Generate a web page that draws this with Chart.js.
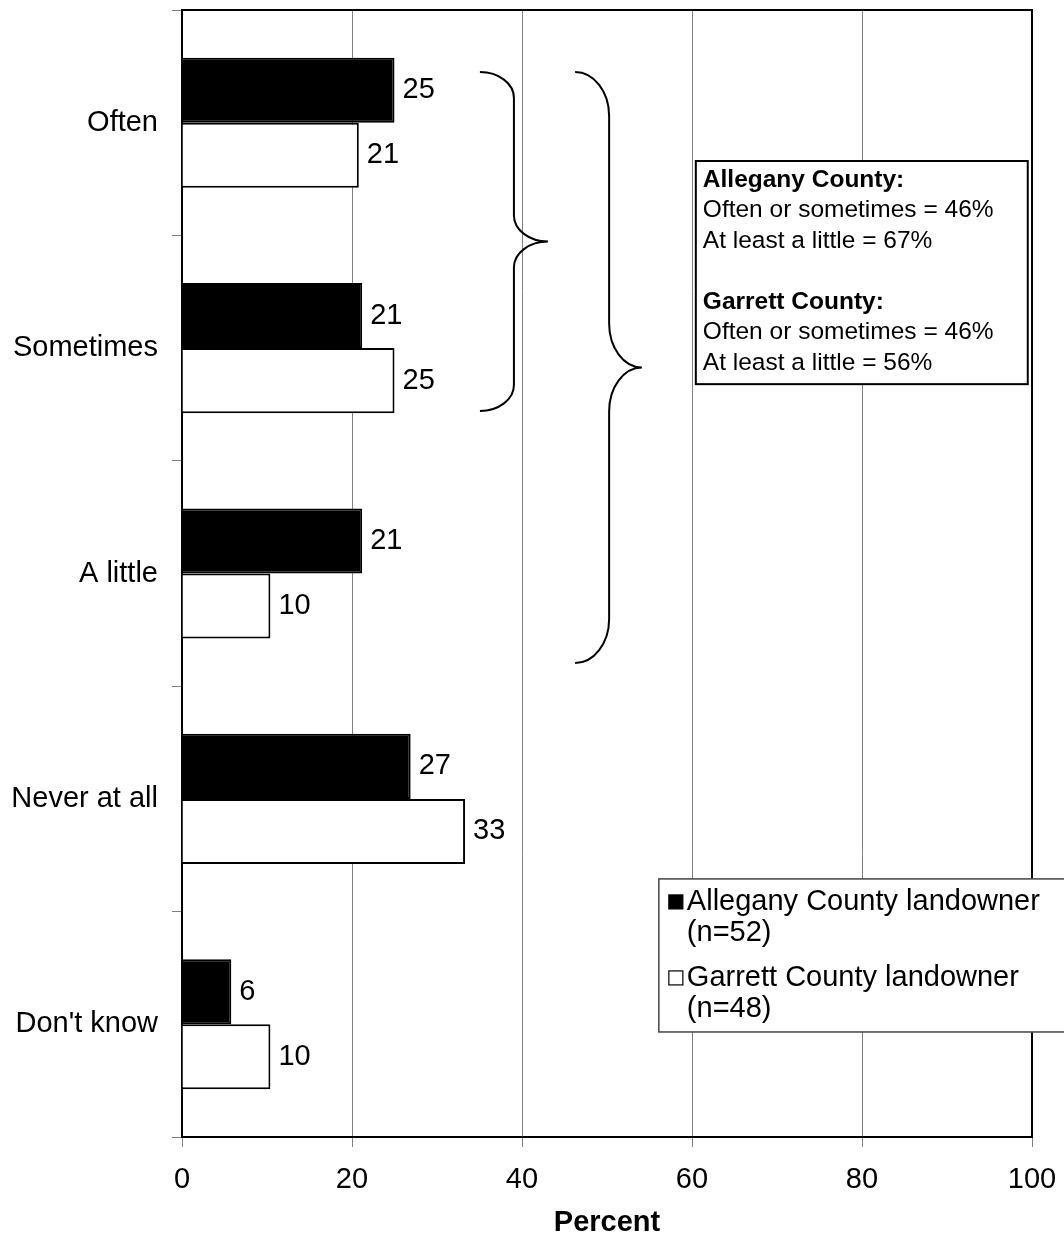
<!DOCTYPE html>
<html>
<head>
<meta charset="utf-8">
<script src="https://cdn.jsdelivr.net/npm/chart.js@4.4.1/dist/chart.umd.min.js"></script>
<style>
  html, body { margin: 0; padding: 0; background: #fff; }
  #wrap { width: 1064px; height: 1240px; }
</style>
</head>
<body>
<div id="wrap"><canvas id="c" width="1064" height="1240"></canvas></div>
<script>
// ---- data ----
const categories = ['Often', 'Sometimes', 'A little', 'Never at all', "Don't know"];
const alleganyValues = [25.0, 21.2, 21.2, 26.9, 5.8];
const garrettValues = [20.8, 25.0, 10.4, 33.3, 10.4];
const xTickValues = [0, 20, 40, 60, 80, 100];
const seriesNames = [['Allegany County landowner', '(n=52)'], ['Garrett County landowner', '(n=48)']];
const summaryLines = [
  ['Allegany County:', true],
  ['Often or sometimes = 46%', false],
  ['At least a little = 67%', false],
  ['', false],
  ['Garrett County:', true],
  ['Often or sometimes = 46%', false],
  ['At least a little = 56%', false]
];

const FONT = '"Liberation Sans", Arial, Helvetica, sans-serif';

function yAt(chart, idx) {
  const ys = chart.scales.y;
  const p0 = ys.getPixelForValue(0);
  const p1 = ys.getPixelForValue(1);
  return p0 + idx * (p1 - p0);
}
function xAt(chart, v) { return chart.scales.x.getPixelForValue(v); }

function brace(ctx, xL, xS, xT, yTop, yBot, r) {
  const k = 0.5523;
  const yMid = (yTop + yBot) / 2;
  ctx.beginPath();
  ctx.moveTo(xL, yTop);
  ctx.bezierCurveTo(xL + k * (xS - xL), yTop, xS, yTop + r - k * r, xS, yTop + r);
  ctx.lineTo(xS, yMid - r);
  ctx.bezierCurveTo(xS, yMid - r + k * r, xT - k * (xT - xS), yMid, xT, yMid);
  ctx.bezierCurveTo(xT - k * (xT - xS), yMid, xS, yMid + r - k * r, xS, yMid + r);
  ctx.lineTo(xS, yBot - r);
  ctx.bezierCurveTo(xS, yBot - r + k * r, xL + k * (xS - xL), yBot, xL, yBot);
  ctx.stroke();
}

const decorPlugin = {
  id: 'decor',
  afterDatasetsDraw(chart) {
    const ctx = chart.ctx;
    const area = chart.chartArea;
    ctx.save();
    // top and right frame
    ctx.strokeStyle = '#000';
    ctx.lineWidth = 2;
    ctx.beginPath();
    ctx.moveTo(area.left, area.top);
    ctx.lineTo(area.right, area.top);
    ctx.lineTo(area.right, area.bottom);
    ctx.stroke();

    // value labels
    ctx.fillStyle = '#000';
    ctx.font = '29px ' + FONT;
    ctx.textAlign = 'left';
    ctx.textBaseline = 'middle';
    chart.data.datasets.forEach((ds, di) => {
      const meta = chart.getDatasetMeta(di);
      meta.data.forEach((bar, i) => {
        ctx.fillText(String(Math.round(ds.data[i])), bar.x + 8, bar.y);
      });
    });

    // braces
    ctx.strokeStyle = '#000';
    ctx.lineWidth = 2;
    brace(ctx, xAt(chart, 35.05), xAt(chart, 39.05), xAt(chart, 43.05),
          yAt(chart, -0.225), yAt(chart, 1.279), 26);
    brace(ctx, xAt(chart, 46.25), xAt(chart, 50.25), xAt(chart, 54.1),
          yAt(chart, -0.225), yAt(chart, 2.397), 44);

    // summary box
    const bx1 = xAt(chart, 60.45), bx2 = xAt(chart, 99.5);
    const by1 = yAt(chart, 0.17), by2 = yAt(chart, 1.16);
    ctx.fillStyle = '#fff';
    ctx.fillRect(bx1, by1, bx2 - bx1, by2 - by1);
    ctx.strokeStyle = '#000';
    ctx.lineWidth = 2;
    ctx.strokeRect(bx1, by1, bx2 - bx1, by2 - by1);
    ctx.fillStyle = '#000';
    ctx.textBaseline = 'middle';
    summaryLines.forEach((ln, i) => {
      ctx.font = (ln[1] ? 'bold ' : '') + '24.5px ' + FONT;
      ctx.fillText(ln[0], bx1 + 7, by1 + 19 + i * 30.5);
    });

    // legend box
    const lx1 = xAt(chart, 56.1), lx2 = xAt(chart, 104);
    const ly1 = yAt(chart, 3.355), ly2 = yAt(chart, 4.034);
    ctx.fillStyle = '#fff';
    ctx.fillRect(lx1, ly1, lx2 - lx1, ly2 - ly1);
    ctx.strokeStyle = '#444';
    ctx.lineWidth = 1.5;
    ctx.strokeRect(lx1, ly1, lx2 - lx1, ly2 - ly1);
    ctx.font = '29px ' + FONT;
    const itemOffsets = [23, 99];
    chart.data.datasets.forEach((ds, di) => {
      const cy = ly1 + itemOffsets[di];
      ctx.fillStyle = ds.backgroundColor;
      ctx.fillRect(lx1 + 10, cy - 7, 14, 14);
      ctx.strokeStyle = '#000';
      ctx.lineWidth = 1.2;
      ctx.strokeRect(lx1 + 10, cy - 7, 14, 14);
      ctx.fillStyle = '#000';
      seriesNames[di].forEach((t, li) => {
        ctx.fillText(t, lx1 + 28, cy + li * 31.5);
      });
    });
    ctx.restore();
  }
};

new Chart(document.getElementById('c'), {
  type: 'bar',
  data: {
    labels: categories,
    datasets: [
      { label: seriesNames[0].join(' '), data: alleganyValues, backgroundColor: '#000', borderColor: '#000', borderWidth: 2 },
      { label: seriesNames[1].join(' '), data: garrettValues, backgroundColor: '#fff', borderColor: '#000', borderWidth: 2 }
    ]
  },
  options: {
    indexAxis: 'y',
    responsive: false,
    animation: false,
    categoryPercentage: 0.577,
    barPercentage: 1.0,
    layout: { padding: { top: 10, right: 32, left: 0, bottom: 0 } },
    plugins: { legend: { display: false }, tooltip: { enabled: false } },
    scales: {
      x: {
        min: 0, max: 100,
        afterBuildTicks: (s) => { s.ticks = xTickValues.map(v => ({ value: v })); },
        ticks: { color: '#000', font: { family: FONT, size: 29 }, padding: 16, maxRotation: 0 },
        grid: {
          color: (c) => (c.tick && (c.tick.value === 0 || c.tick.value === 100)) ? 'rgba(0,0,0,0)' : '#808080',
          tickColor: '#808080', tickLength: 10, lineWidth: 1
        },
        border: { color: '#000', width: 2 },
        title: { display: true, text: 'Percent', color: '#000', font: { family: FONT, size: 29, weight: 'bold' }, padding: 0 },
        afterFit: (s) => { s.height = 103; s.paddingLeft = 0; s.paddingRight = 0; }
      },
      y: {
        ticks: { color: '#000', font: { family: FONT, size: 29 }, padding: 14 },
        grid: { drawOnChartArea: false, tickColor: '#808080', tickLength: 10, offset: true },
        border: { color: '#000', width: 2 },
        afterFit: (s) => { s.width = 182; s.paddingTop = 0; s.paddingBottom = 0; }
      }
    }
  },
  plugins: [decorPlugin]
});
</script>
</body>
</html>
